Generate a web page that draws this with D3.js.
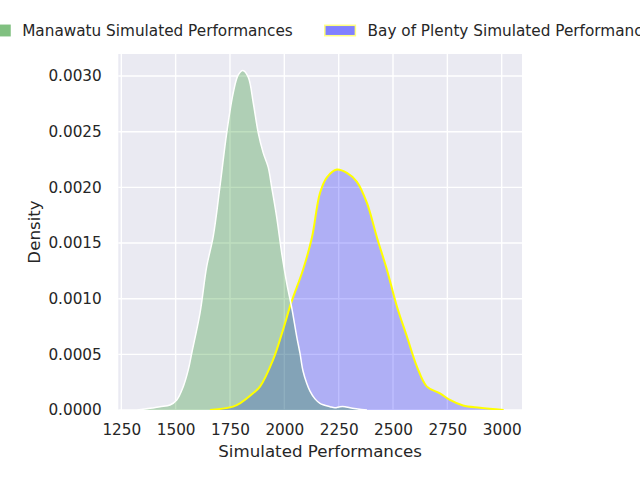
<!DOCTYPE html>
<html>
<head>
<meta charset="utf-8">
<script src="https://cdn.jsdelivr.net/npm/d3@7"></script>
<style>
	body { margin: 0; background: #ffffff; }
	text { font-family: "DejaVu Sans", sans-serif; fill: #262626; }
</style>
</head>
<body>
<script>
'use strict';

// KDE curves: [performance, density]
const manawatu = [
	[1322, 0], [1382, 0.000015], [1428, 0.00003], [1474, 0.000045], [1505, 0.00009],
	[1535, 0.00021], [1558, 0.00036], [1574, 0.00051], [1612, 0.00087], [1643, 0.00129],
	[1673, 0.00156], [1704, 0.00201], [1735, 0.00249], [1765, 0.00285], [1788, 0.00301],
	[1809, 0.00305], [1834, 0.00299], [1857, 0.00276], [1880, 0.00249], [1903, 0.00231],
	[1926, 0.00218], [1942, 0.00200], [1965, 0.00173], [1988, 0.00141], [2011, 0.00114],
	[2034, 0.00092], [2057, 0.00066], [2072, 0.00051], [2086, 0.00035], [2103, 0.00024],
	[2118, 0.00017], [2141, 0.00010], [2164, 0.00006], [2210, 0.00003], [2233, 0.00002],
	[2256, 0.00003], [2279, 0.00003], [2302, 0.00002], [2338, 0.00001], [2380, 0]
];

const bayOfPlenty = [
	[1658, 0], [1764, 0.00003], [1796, 0.00006], [1856, 0.00015], [1888, 0.00021],
	[1948, 0.00045], [1994, 0.00072], [2031, 0.00096], [2086, 0.00126], [2127, 0.00155],
	[2164, 0.00195], [2196, 0.00209], [2242, 0.00216], [2288, 0.00213], [2334, 0.00205],
	[2380, 0.00186], [2426, 0.00155], [2472, 0.00126], [2518, 0.00093], [2564, 0.00066],
	[2610, 0.00039], [2656, 0.00021], [2716, 0.00015], [2762, 0.00009], [2822, 0.00004],
	[2900, 0.00002], [3009, 0]
];

const seriesNames = ["Manawatu Simulated Performances", "Bay of Plenty Simulated Performances"];
const xTicks = [1250, 1500, 1750, 2000, 2250, 2500, 2750, 3000];
const yTicks = [0, 0.0005, 0.0010, 0.0015, 0.0020, 0.0025, 0.0030];
const xDomain = [1236.2, 3093.4];
const yDomain = [0, 0.003198];

const params = { left: 118.3, right: 522, top: 54, bottom: 410 };

const svg = d3.select("body")
	.append("svg")
	.attr("width", 640)
	.attr("height", 480)

const xScale = d3.scaleLinear().domain(xDomain).range([params.left, params.right])
const yScale = d3.scaleLinear().domain(yDomain).range([params.bottom, params.top])

// plot background + grid
svg.append("rect")
	.attr("x", params.left)
	.attr("y", params.top)
	.attr("width", params.right - params.left)
	.attr("height", params.bottom - params.top)
	.attr("fill", "#eaeaf2")

svg.append("clipPath")
	.attr("id", "plot-clip")
	.append("rect")
	.attr("x", params.left)
	.attr("y", params.top)
	.attr("width", params.right - params.left)
	.attr("height", params.bottom - params.top)

const grid = svg.append("g").attr("stroke", "#ffffff").attr("stroke-width", 1.4)
grid.selectAll(".vgrid")
	.data(xTicks)
	.enter()
	.append("line")
	.attr("x1", d => xScale(d))
	.attr("x2", d => xScale(d))
	.attr("y1", params.top)
	.attr("y2", params.bottom)
grid.selectAll(".hgrid")
	.data(yTicks)
	.enter()
	.append("line")
	.attr("x1", params.left)
	.attr("x2", params.right)
	.attr("y1", d => yScale(d))
	.attr("y2", d => yScale(d))

// density curves
const areaGen = d3.area()
	.x(d => xScale(d[0]))
	.y0(yScale(0))
	.y1(d => yScale(d[1]))
	.curve(d3.curveCatmullRom.alpha(0.5))

const lineGen = d3.line()
	.x(d => xScale(d[0]))
	.y(d => yScale(d[1]))
	.curve(d3.curveCatmullRom.alpha(0.5))

const plot = svg.append("g").attr("clip-path", "url(#plot-clip)")

plot.append("path")
	.attr("d", areaGen(bayOfPlenty))
	.attr("fill", "#0000ff")
	.attr("fill-opacity", 0.25)

plot.append("path")
	.attr("d", areaGen(manawatu))
	.attr("fill", "#008000")
	.attr("fill-opacity", 0.25)

plot.append("path")
	.attr("d", lineGen(bayOfPlenty))
	.attr("fill", "none")
	.attr("stroke", "#ffff00")
	.attr("stroke-width", 2)

plot.append("path")
	.attr("d", lineGen(manawatu))
	.attr("fill", "none")
	.attr("stroke", "#ffffff")
	.attr("stroke-width", 1.5)

// axes
const xAxis = svg.append("g")
	.attr("transform", `translate(0, ${params.bottom})`)
	.call(d3.axisBottom(xScale).tickValues(xTicks).tickSize(0).tickPadding(14.3).tickFormat(d3.format("d")))
xAxis.select(".domain").remove()
xAxis.selectAll("text")
	.attr("font-family", "DejaVu Sans")
	.attr("font-size", 15.28)
	.attr("fill", "#262626")

const yAxis = svg.append("g")
	.attr("transform", `translate(${params.left}, 0)`)
	.call(d3.axisLeft(yScale).tickValues(yTicks).tickSize(0).tickPadding(16.5).tickFormat(d3.format(".4f")))
yAxis.select(".domain").remove()
yAxis.selectAll("text")
	.attr("font-family", "DejaVu Sans")
	.attr("font-size", 15.28)
	.attr("fill", "#262626")

svg.append("text")
	.attr("x", (params.left + params.right) / 2)
	.attr("y", 457)
	.attr("text-anchor", "middle")
	.attr("font-size", 16.67)
	.text("Simulated Performances")

svg.append("text")
	.attr("transform", `translate(39.5, ${(params.top + params.bottom) / 2}) rotate(-90)`)
	.attr("text-anchor", "middle")
	.attr("font-size", 16.67)
	.text("Density")

// legend (runs off both sides of the figure, as in the original)
const legendItems = [
	{ name: seriesNames[0], x: -20.6, fill: "#80c080", stroke: "#80c080" },
	{ name: seriesNames[1], x: 324.8, fill: "#8080ff", stroke: "#ffff80" }
]
const legend = svg.append("g")
legendItems.forEach(item => {
	legend.append("rect")
		.attr("x", item.x)
		.attr("y", 25.3)
		.attr("width", 30.6)
		.attr("height", 10.4)
		.attr("fill", item.fill)
		.attr("stroke", item.stroke)
		.attr("stroke-width", 1.5)
	legend.append("text")
		.attr("x", item.x + 30.6 + 12.2)
		.attr("y", 36.3)
		.attr("font-size", 15.28)
		.text(item.name)
})
</script>
</body>
</html>
